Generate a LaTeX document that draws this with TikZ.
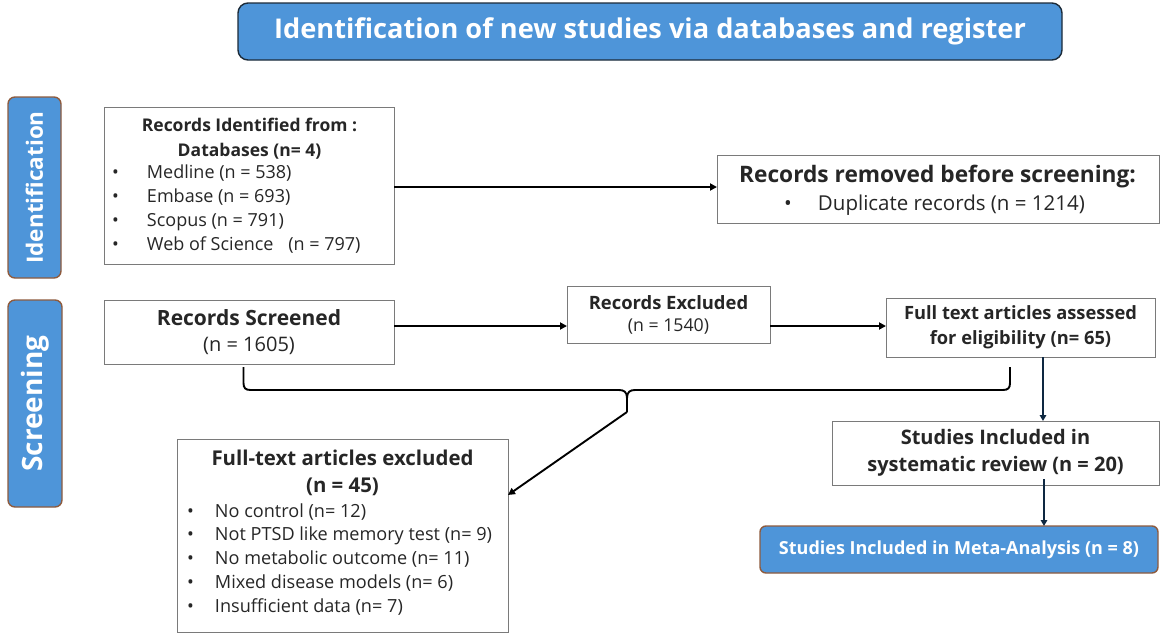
\documentclass[tikz,border=0pt]{standalone}
\usepackage{fontspec}
\setmainfont{Open Sans}
\usetikzlibrary{arrows.meta,calc}
\definecolor{accblue}{HTML}{4E95D9}
\definecolor{rust}{HTML}{8E5B3E}
\definecolor{titleedge}{HTML}{1C2B39}
\definecolor{navy}{HTML}{0E2841}
\definecolor{boxedge}{HTML}{7A7A7A}
\definecolor{ink}{HTML}{262626}
\newcommand{\fs}[2]{\fontsize{#1}{#2}\selectfont}
\newcommand{\itm}[2]{\makebox[#1][l]{\textbullet}#2}
\begin{document}
\begin{tikzpicture}[x=1pt,y=-1pt,
  every node/.style={inner sep=0pt, outer sep=0pt},
  wbox/.style={draw=boxedge, line width=0.9pt, fill=white, text=ink, align=center},
  bluebox/.style={draw=rust, line width=1.4pt, fill=accblue, rounded corners=7pt, text=white, align=center},
  txt/.style={text=ink},
  arr/.style={line width=1.9pt, black, -{Triangle[length=7pt,width=7pt]}},
  navyarr/.style={line width=2.6pt, navy, -{Triangle[length=6pt,width=6.5pt]}},
  brace/.style={line width=1.9pt, black},
]
\useasboundingbox (0,0) rectangle (1163,637);
\fill[white] (0,0) rectangle (1163,637);

% title
\node[bluebox, draw=titleedge, rounded corners=10pt, minimum width=824pt, minimum height=57pt,
      font=\bfseries\fs{27.2}{30}] (title) at (650,31.5) {Identification of new studies via databases and register};

% side bars
\node[bluebox, rotate=90, minimum width=181pt, minimum height=53pt, font=\bfseries\fs{22.5}{24}] (sideid) at (34.5,187.5) {Identification};
\node[bluebox, rotate=90, minimum width=207pt, minimum height=54pt, font=\bfseries\fs{28}{30}] (sidescr) at (35,403.5) {Screening};

% records identified
\node[wbox, minimum width=290pt, minimum height=157pt] (rid) at (249,185.5) {};
\node[txt, anchor=base, font=\bfseries\fs{17.5}{25}] (ridh) at (249.5,131)
  {\begin{tabular}[t]{@{}c@{}}Records Identified from :\\Databases (n= 4)\end{tabular}};
\node[txt, anchor=base west, font=\fs{18}{24.3}] (ridl) at (112,178)
  {\begin{tabular}[t]{@{}l@{}}
   \itm{35pt}{Medline (n = 538)}\\
   \itm{35pt}{Embase (n = 693)}\\
   \itm{35pt}{Scopus (n = 791)}\\
   \itm{35pt}{Web of Science\hspace{10pt} (n = 797)}
   \end{tabular}};

% records removed
\node[wbox, minimum width=442pt, minimum height=68pt] (rem) at (938,189) {};
\node[txt, anchor=base, font=\bfseries\fs{22.7}{26}] (remh) at (937.5,182) {Records removed before screening:};
\node[txt, anchor=base west, font=\fs{20.5}{24}] (reml) at (784,210) {\itm{34pt}{Duplicate records (n = 1214)}};

% screening row
\node[wbox, minimum width=290pt, minimum height=64pt, font=\fs{20}{26}] (rs) at (249,332)
  {{\bfseries\fs{21}{26}Records Screened}\\(n = 1605)};
\node[wbox, minimum width=203pt, minimum height=57pt, font=\fs{17.7}{22}] (re) at (668.5,314.5)
  {{\bfseries\fs{18.4}{22}Records Excluded}\\(n = 1540)};
\node[wbox, minimum width=269pt, minimum height=59pt, font=\bfseries\fs{18.3}{25}] (fta) at (1020.5,327.5)
  {Full text articles assessed\\for eligibility (n= 65)};
\node[wbox, minimum width=327pt, minimum height=64pt, font=\bfseries\fs{20}{27}] (sir) at (995.5,453)
  {Studies Included in\\systematic review (n = 20)};
\node[bluebox, rounded corners=6pt, minimum width=398pt, minimum height=47pt, font=\bfseries\fs{18}{22}] (meta) at (959,549.5)
  {Studies Included in Meta-Analysis (n = 8)};

% full-text excluded
\node[wbox, minimum width=331pt, minimum height=193pt] (fte) at (342.5,535.5) {};
\node[txt, anchor=base, font=\bfseries\fs{20.4}{27}] (fteh) at (342.5,465)
  {\begin{tabular}[t]{@{}c@{}}Full-text articles excluded\\(n = 45)\end{tabular}};
\node[txt, anchor=base west, font=\fs{18.1}{23.75}] (ftel) at (187,517)
  {\begin{tabular}[t]{@{}l@{}}
   \itm{28pt}{No control (n= 12)}\\
   \itm{28pt}{Not PTSD like memory test (n= 9)}\\
   \itm{28pt}{No metabolic outcome (n= 11)}\\
   \itm{28pt}{Mixed disease models (n= 6)}\\
   \itm{28pt}{Insufficient data (n= 7)}
   \end{tabular}};

% connectors
\draw[arr] ([yshift=-1.5pt]rid.east) -- ([yshift=-1.5pt]rid.east -| rem.west);
\draw[arr] ([yshift=6pt]rs.east) -- ([yshift=6pt]rs.east -| re.west);
\draw[arr] ([yshift=-11.5pt]re.east) -- ([yshift=-11.5pt]re.east -| fta.west);

% brace
\coordinate (bl) at (243.5,367);
\coordinate (br) at (1010,367);
\coordinate (tip) at (627,412);
\draw[brace] (bl) -- (243.5,383) .. controls (243.5,388) and (245.5,390) .. (250.5,390)
  -- (619,390) .. controls (624,390) and (627,392) .. (627,398) -- (tip);
\draw[brace] (br) -- (1010,383) .. controls (1010,388) and (1008,390) .. (1003,390)
  -- (635,390) .. controls (630,390) and (627,392) .. (627,398);
\draw[arr] (tip) -- ([yshift=40.5pt]fte.east);

% navy arrows
\draw[navyarr] ([xshift=22.5pt]fta.south) -- ([xshift=22.5pt]fta.south |- sir.north);
\draw[navyarr] ([xshift=48.5pt,yshift=6pt]sir.south) -- ([xshift=48.5pt]sir.south |- meta.north);
\end{tikzpicture}
\end{document}
